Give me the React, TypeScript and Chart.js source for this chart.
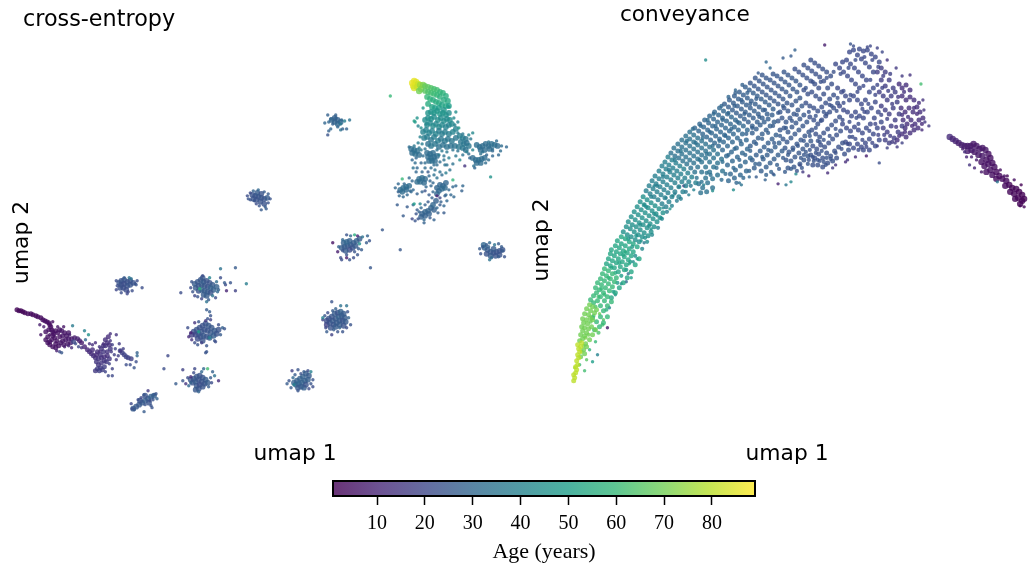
import React, { useEffect, useRef } from "react";
import { Chart, registerables } from "chart.js";

Chart.register(...registerables);

type Pt = number[];

// ---- Colorbar ----
const colorbarTicks = [10, 20, 30, 40, 50, 60, 70, 80];
const ageMin = 0.8;
const ageMax = 89;
const viridisStops = ["#440154", "#482878", "#3e4989", "#31688e", "#26828e", "#1f9e89", "#35b779", "#6ece58", "#b5de2b", "#fde725"];

// ---- cross-entropy panel: [x, y, age] ----
const strandDense: Pt[] = [[17,310,2],[19,311,2],[21,311,2],[23,312,2],[25,313,2],[28,314,3],[31,314,3],[33,315,3],[36,316,3],[38,317,3],[41,318,3],[43,320,4],[45,321,4],[47,322,4],[49,323,4],[50,325,4],[51,327,4],[52,330,4],[53,332,5],[54,334,5],[46,332,5],[48,337,5],[46,340,5],[48,343,5],[50,345,5],[53,347,5],[56,348,5],[59,346,5],[61,343,6],[63,341,6],[66,340,6],[69,339,7],[72,339,7],[75,338,8],[78,339,9],[80,341,9],[82,343,8],[60,330,6],[58,333,5],[62,331,6],[65,333,6],[67,336,6],[55,338,5],[52,340,5],[57,341,5],[85,347,10],[88,350,11],[90,352,12],[92,354,12],[94,356,13],[96,358,13],[99,359,14],[102,358,14],[105,357,13],[108,356,13],[104,352,15],[102,349,14],[106,346,14],[108,343,13],[106,340,13],[109,337,12],[97,362,15],[99,365,15],[101,368,16],[98,369,17],[100,371,18],[103,370,17],[105,367,17],[96,371,16],[121,351,18],[123,353,18],[125,355,19],[127,357,19],[129,358,19],[132,359,18],[110,359,15],[107,362,16],
[60,337,5],[63,336,6],[71,343,8],[74,342,20],[68,344,6],[64,345,6],[56,344,5],[50,342,5],[53,336,5],[49,330,5],[56,331,5],[69,333,6],[98,352,13],[101,355,14],[97,355,12],[93,350,12],[105,361,15],[102,363,15],[108,352,14],[111,349,15],[104,346,14],[110,345,13]];
const strandLoose: Pt[] = [[40,325,8],[44,327,8],[41,335,6],[73,326,37],[85,331,40],[89,335,45],[86,340,30],[60,352,20],[62,353,25],[96,343,12],[117,335,14],[111,334,13],[113,345,17],[116,349,18],[120,344,16],[121,351,15],[115,355,17],[117,360,16],[113,369,18],[109,376,20],[113,376,20],[127,365,22],[131,365,22],[135,368,24],[138,353,28],[138,356,30],[137,362,22],[58,327,6],[64,327,6],[70,335,8],[82,348,14],[90,344,14],[72,348,12],[110,364,18],[106,372,19],[57,351,9],[65,347,8],[69,346,10],[76,344,22],[79,347,20],[93,345,13],[100,347,14],[104,344,12],[112,352,16],[119,356,17],[124,349,17],[111,341,14],[100,352,12],[53,322,4],[50,335,5]];
const clusterDense: Pt[] = [
[120,283,24],[122,281,24],[125,280,24],[128,282,24],[131,281,23],[122,285,23],[125,284,22],[128,286,24],[131,285,24],[134,283,24],[124,288,22],[121,288,23],[127,290,22],
[196,284,26],[199,282,25],[202,280,25],[205,282,27],[208,281,24],[211,283,24],[214,285,26],[197,288,26],[200,286,24],[203,285,26],[206,286,25],[209,287,24],[212,288,28],[215,290,28],[200,291,24],[203,290,28],[206,291,26],[209,292,26],[212,293,24],[205,295,26],[208,296,26],[204,278,25],[218,287,28],
[195,332,22],[198,330,24],[201,328,23],[204,326,23],[207,324,24],[210,326,25],[213,328,25],[216,331,26],[197,335,20],[200,334,24],[203,332,24],[206,330,24],[209,331,24],[212,333,25],[202,337,24],[205,336,25],[208,337,24],[211,338,26],[215,336,27],[193,335,18],[218,334,24],[220,330,24],[199,339,22],[204,341,24],
[192,380,24],[195,379,24],[198,377,25],[201,376,24],[204,378,24],[207,380,26],[194,383,24],[197,382,26],[200,380,24],[203,382,24],[206,384,24],[209,383,26],[198,386,25],[201,385,22],[204,387,24],[200,389,24],[197,390,25],
[134,409,26],[137,407,25],[140,405,25],[143,403,26],[146,401,26],[149,399,26],[152,397,27],[155,396,27],[141,401,24],[146,396,24],[150,403,24],
[296,383,28],[299,381,28],[302,379,28],[305,377,28],[308,374,27],[311,376,26],[298,385,28],[301,384,30],[304,383,28],[307,381,28],[310,380,27],[303,387,26],[306,388,27],[300,388,26],[308,385,24],
[329,325,18],[332,323,24],[335,321,26],[338,319,25],[341,317,28],[344,316,26],[347,318,26],[331,319,24],[334,317,24],[337,314,26],[340,313,24],[343,312,28],[346,314,26],[336,325,24],[339,323,26],[342,321,26],[345,321,24],[348,322,26],[333,328,24],[338,327,26],[342,325,26],[329,321,22],[346,326,24],
[344,248,27],[347,247,26],[350,246,26],[353,245,26],[356,243,26],[359,241,28],[362,239,26],[346,243,28],[349,242,30],[352,241,28],[355,248,24],[352,250,22],[348,251,26],[358,246,26],
[488,248,28],[491,250,26],[494,252,26],[497,253,24],[500,252,24],[503,251,24],[506,250,24],[490,254,24],[494,256,26],[499,256,24],[503,255,24],[497,249,26],[487,245,30],
[334,120,29],[337,122,29],[340,124,30],[337,118,28],[340,120,28],[343,122,30],
[254,195,24],[257,196,24],[260,197,24],[263,198,25],[266,199,24],[259,193,26],[263,194,24],[258,200,24],[262,202,24],[266,204,24],[255,199,24],[269,198,26],
];
const clusterLoose: Pt[] = [
[117,281,22],[118,286,22],[117,290,20],[122,293,22],[128,294,20],[133,291,22],[136,284,24],[138,281,22],[143,288,22],[130,278,34],[132,279,34],[125,278,26],[129,292,20],[137,285,24],
[222,269,34],[237,268,26],[248,284,38],[182,293,22],[237,291,18],[227,285,22],[226,283,26],[232,283,24],[228,291,10],[193,282,24],[192,288,22],[196,296,20],[218,282,32],[220,290,28],[217,298,22],[208,302,34],[210,300,26],[204,276,22],[211,278,40],[201,289,58],[222,278,22],[219,292,30],[214,296,34],[199,297,24],[194,292,24],[203,299,20],
[208,310,26],[211,312,26],[212,316,24],[209,319,24],[207,321,16],[196,323,14],[189,328,22],[192,333,10],[190,337,12],[196,343,22],[199,345,24],[203,343,18],[208,346,24],[208,352,24],[207,353,24],[216,341,24],[224,328,28],[226,329,24],[220,325,22],[212,320,18],[200,332,50],[211,338,40],[217,342,22],[222,335,26],[193,340,14],[200,322,24],
[177,384,26],[184,370,18],[189,378,22],[184,381,24],[187,384,14],[192,377,12],[196,369,20],[205,369,30],[209,369,62],[214,372,28],[216,376,34],[220,381,12],[213,383,22],[192,383,28],[200,392,28],[212,378,26],[195,373,22],[190,386,30],[210,387,26],[203,372,30],
[132,404,20],[133,409,22],[135,410,25],[149,391,16],[145,395,24],[155,395,26],[157,394,24],[158,399,28],[151,401,22],[153,408,24],[152,406,24],[145,412,26],[142,398,20],[146,405,24],[139,400,22],[154,400,24],
[289,384,26],[294,371,18],[297,375,26],[291,381,24],[296,385,40],[300,370,24],[310,371,22],[313,372,40],[315,380,24],[315,387,22],[311,389,22],[300,391,24],[295,378,30],[306,372,26],[303,374,24],[313,384,24],[293,388,26],
[334,302,24],[343,306,34],[349,306,34],[325,320,18],[327,316,24],[330,313,22],[338,309,28],[350,312,24],[351,318,28],[353,325,24],[349,328,22],[342,328,28],[336,330,26],[329,332,26],[334,335,18],[345,332,24],[325,318,40],[335,311,26],[328,328,20],[340,332,24],
[335,243,5],[345,251,24],[340,252,8],[343,258,22],[344,260,22],[349,258,8],[352,260,24],[356,258,22],[360,255,24],[364,250,26],[369,243,26],[372,241,24],[365,237,34],[357,235,56],[360,236,10],[353,236,30],[349,235,24],[345,240,30],[385,230,25],[403,250,25],[373,268,25],[362,244,44],[370,236,28],[341,247,28],[357,252,24],[361,249,26],[349,255,24],
[483,249,26],[484,254,24],[490,245,26],[493,243,30],[498,245,34],[502,244,26],[506,251,26],[508,257,24],[502,257,26],[495,258,30],[493,260,34],[486,247,26],[492,247,28],[505,247,26],
[330,115,28],[327,123,30],[333,119,30],[344,120,30],[347,121,38],[352,120,34],[340,127,30],[343,130,34],[333,129,30],[331,131,28],[345,129,28],[349,129,28],[330,135,24],[338,118,28],[343,124,36],[335,124,28],[331,122,30],[338,115,28],
[249,196,22],[252,193,22],[255,191,28],[260,190,30],[266,192,26],[270,194,26],[272,199,24],[270,203,24],[267,207,26],[263,210,26],[258,204,22],[252,200,24],[256,201,24],[268,209,26],[261,206,24],[250,199,24],
[169,356,20],[165,369,22],
];
const headYellow: Pt[] = [[415,83,86],[417,81,86],[419,82,85],[416,86,86],[418,85,85],[421,84,82],[417,88,84],[420,87,82],[423,85,76],[426,85,72],[424,89,72],[422,91,70]];
const topGreen: Pt[] = [[428,86,68],[431,87,67],[434,88,65],[437,89,63],[440,90,62],[443,92,60],[446,93,58],[449,96,56],[428,91,66],[431,92,64],[434,93,62],[437,94,61],[440,95,60],[443,97,57],[447,100,55],[451,101,54],[430,97,60],[433,99,58],[436,100,56],[439,102,55],[442,103,55],[445,105,52],[449,106,53],[452,106,50],[431,104,55],[435,107,52],[438,108,50],[442,108,50],[447,110,47]];
const topTeal: Pt[] = [[431,113,46],[434,112,46],[437,113,47],[440,111,47],[443,114,48],[446,113,46],[449,115,46],[452,113,44],[428,120,44],[431,118,44],[434,119,45],[437,117,44],[441,120,44],[444,118,44],[447,121,44],[450,119,43],[453,120,44],[430,125,42],[433,123,42],[436,126,43],[439,124,42],[442,127,42],[445,125,42],[449,127,40],[452,125,40],[455,124,42],[426,132,40],[429,130,40],[432,133,40],[435,131,40],[439,134,41],[442,131,38],[445,134,38],[448,132,38],[452,134,38],[456,132,40],[459,129,40],[427,138,38],[430,137,38],[434,140,36],[437,137,38],[441,141,38],[444,139,36],[448,141,36],[451,139,36],[455,141,36],[459,138,36],[431,144,34],[434,146,36],[438,144,36],[442,147,34],[446,145,34],[450,147,34],[454,146,34],[458,146,34],[463,136,38],[466,138,38],[469,139,36],[464,142,36],[467,144,36],[470,143,34],[472,146,36],[462,147,36],[466,148,36],[469,150,34]];
const topBranches: Pt[] = [[480,145,33],[483,147,33],[486,146,32],[489,144,32],[492,146,32],[495,144,33],[498,145,33],[501,146,32],[484,150,32],[488,150,32],[493,149,32],[476,158,32],[479,160,32],[482,160,33],[485,159,32],[488,158,32],[480,163,32],[484,163,32],[414,149,33],[417,150,33],[420,151,33],[415,153,32],[418,154,33],[422,155,32],[430,153,32],[433,154,32],[436,153,32],[431,157,32],[434,158,32],[437,157,32],[440,156,32],[432,161,32],[435,161,33],[438,161,32],[422,179,32],[425,178,32],[428,179,31],[420,182,32],[423,182,32],[427,183,31],[403,190,31],[406,188,32],[409,187,32],[412,186,32],[405,192,32],[409,190,31],[440,188,30],[443,185,30],[446,186,30],[449,183,30],[442,191,30],[445,189,31],[448,188,31],[440,194,30],[425,214,28],[428,212,29],[431,211,29],[434,208,29],[424,217,28],[428,216,28],[432,214,28],[436,205,30],[439,201,28],[437,210,28]];
const topLoose: Pt[] = [[393,96,60],[417,121,52],[418,122,48],[421,126,40],[426,108,48],[420,118,46],[425,144,38],[424,150,36],[417,146,36],[459,112,44],[452,107,48],[462,128,46],[466,134,36],[476,133,42],[476,150,40],[470,152,38],[473,158,30],[477,166,34],[468,166,14],[478,168,30],[463,160,42],[486,152,34],[502,155,30],[496,156,30],[505,146,32],[510,147,30],[492,142,34],[494,177,46],[415,160,30],[418,163,32],[416,168,34],[420,168,30],[419,172,30],[434,168,32],[440,165,32],[448,165,34],[452,158,38],[443,172,34],[445,175,32],[431,172,26],[437,175,34],[449,173,38],[456,180,58],[459,186,30],[466,186,30],[465,191,28],[405,179,60],[401,184,30],[412,178,30],[401,192,28],[402,196,30],[406,197,30],[414,192,30],[416,190,30],[420,194,28],[425,192,28],[428,191,24],[432,195,26],[436,192,30],[434,186,30],[440,196,10],[443,198,20],[449,195,30],[450,201,30],[440,208,30],[416,205,30],[400,205,26],[410,207,26],[417,204,50],[423,204,40],[406,216,26],[415,219,20],[418,221,24],[421,219,24],[427,220,30],[427,223,28],[437,220,28],[447,213,26],[457,197,30],[454,195,30],[440,150,34],[445,151,36],[450,152,36],[456,150,34],[461,151,34],[442,155,36],[447,156,34],[428,149,34],[426,156,32],[424,163,30],[428,168,32],[425,172,30],[432,176,30],[440,178,34],[453,170,34],[456,164,34],[459,156,36],[466,155,34],[472,154,32],[490,155,30],[496,151,30],[504,151,32],[484,154,34],[410,195,30],[407,184,30],[415,181,30],[435,198,28],[431,202,26],[428,205,28],[424,208,30],[420,210,26],[443,205,26],[447,206,30],
[424,128,44],[423,137,40],[421,143,38],[429,124,42],[457,118,42],[461,122,40],[458,125,40],[461,133,38],[474,139,36],[472,135,40],[419,158,30],[412,147,32],[422,148,36],[428,163,32],[437,165,32],[443,162,32],[447,160,34],[450,165,34],[438,170,34],[433,181,30],[436,183,30],[429,187,30],[452,190,30],[456,187,30],[448,196,28],[444,202,28],[441,213,28],[433,218,26],[422,212,28],[419,214,24],[413,191,30],[398,188,30],[496,149,32],[500,141,32],[489,163,32],[492,160,32]];

// ---- conveyance panel: (x, y) by stretch of the arc, with one age per stretch ----
const arcTip: Pt[] = [[574,381],[575,378],[574,375],[576,373],[577,370],[576,367],[578,365],[577,361],[579,358],[578,355],[580,352],[579,349],[581,347],[578,345],[582,343]];
const arcTipAge = 80;
const arcLow: Pt[] = [[580,341],[583,339],[581,335],[585,336],[583,331],[587,333],[582,327],[585,328],[589,329],[584,323],[588,324],[592,327],[583,319],[587,320],[591,318],[585,314],[589,315],[593,320],[587,309],[591,311],[595,313],[590,305],[593,307],[597,310],[586,344],[590,340],[584,350],[587,347],[593,335],[596,330],[581,357],[585,354]];
const arcLowAge = 70;
const arcClimbA: Pt[] = [[591,300],[594,303],[598,301],[601,306],[594,296],[597,293],[601,297],[605,301],[596,288],[600,290],[604,293],[608,297],[598,283],[602,285],[606,288],[610,291],[601,279],[605,281],[609,284],[613,287],[593,318],[597,322],[601,317],[604,311],[608,306],[595,330],[600,327],[604,323],[608,317],[612,302],[603,274],[607,276],[611,279],[615,282],[605,269],[609,271],[613,274],[617,278]];
const arcClimbAAge = 60;
const arcClimbB: Pt[] = [[607,264],[611,266],[615,268],[619,272],[609,259],[613,261],[617,263],[621,267],[625,270],[611,254],[615,256],[619,259],[623,262],[627,265],[612,250],[617,252],[621,254],[625,257],[629,260],[616,246],[620,248],[624,251],[628,253],[632,256],[618,241],[622,244],[626,246],[630,249],[634,252],[620,288],[624,283],[628,278],[632,272],[636,265],[640,259],[616,293],[612,298],[622,237],[626,239],[630,242],[634,244],[638,247]];
const arcClimbBAge = 53;
const arcShoulderA: Pt[] = [[624,232],[628,235],[632,237],[636,240],[640,242],[627,227],[631,229],[635,232],[639,235],[643,237],[629,222],[633,225],[637,227],[641,230],[645,233],[649,236],[632,217],[636,220],[640,223],[644,225],[648,228],[652,232],[635,212],[639,215],[643,218],[647,221],[651,224],[655,227],[638,207],[642,210],[646,213],[650,216],[654,219],[658,222],[641,202],[645,205],[649,208],[653,211],[657,214],[661,218],[644,197],[648,200],[652,203],[656,206],[660,209],[664,213]];
const arcShoulderAAge = 45;
const arcShoulderB: Pt[] = [[647,191],[651,194],[655,197],[659,200],[663,204],[667,207],[650,186],[654,189],[658,192],[662,195],[666,198],[670,202],[653,181],[657,184],[661,187],[665,190],[669,193],[673,197],[656,176],[660,179],[664,182],[668,185],[672,188],[676,192],[680,197],[660,171],[664,174],[668,177],[672,180],[676,183],[680,187],[684,192],[663,166],[667,169],[671,172],[675,175],[679,178],[683,182],[687,186],[666,162],[670,165],[674,168],[678,171],[682,174],[686,178],[690,182],[669,157],[673,160],[677,163],[681,166],[685,169],[689,173],[693,177],[697,183]];
const arcShoulderBAge = 39;
const arcMidA: Pt[] = [[672,153],[676,156],[680,158],[684,161],[688,164],[692,168],[696,172],[675,148],[679,151],[683,154],[687,157],[691,160],[695,163],[699,167],[703,172],[707,178],[679,144],[683,147],[687,150],[691,153],[695,156],[699,159],[703,162],[707,167],[711,172],[683,140],[687,143],[691,146],[695,149],[699,152],[703,155],[707,158],[711,162],[715,167],[687,136],[691,139],[695,142],[699,145],[703,148],[707,151],[711,154],[715,158],[719,163],[691,132],[695,135],[699,138],[703,141],[707,144],[711,147],[715,150],[719,154],[723,159],[700,184],[704,188],[709,183],[714,179],[719,175],[724,171],[702,193],[708,192],[714,188]];
const arcMidAAge = 34;
const arcMidB: Pt[] = [[696,128],[700,131],[704,134],[708,137],[712,140],[716,143],[720,146],[724,150],[701,124],[705,127],[709,130],[713,133],[717,136],[721,139],[725,142],[729,146],[706,120],[710,123],[714,126],[718,129],[722,132],[726,135],[730,138],[734,142],[711,116],[715,119],[719,122],[723,125],[727,128],[731,131],[735,134],[739,138],[716,112],[720,115],[724,118],[728,121],[732,124],[736,127],[740,130],[744,134],[721,108],[725,111],[729,114],[733,117],[737,120],[741,123],[745,126],[749,130],[728,156],[733,152],[738,148],[743,144],[748,140],[729,165],[734,161],[739,157],[744,153],[749,149],[732,174],[737,170],[742,166],[747,162],[752,158],[730,181],[736,178],[742,175],[748,171]];
const arcMidBAge = 30;
const arcCrownA: Pt[] = [[726,104],[730,107],[734,110],[738,113],[742,116],[746,119],[750,122],[754,126],[731,100],[735,103],[739,106],[743,109],[747,112],[751,115],[755,118],[759,122],[736,96],[740,99],[744,102],[748,105],[752,108],[756,111],[760,114],[764,118],[741,92],[745,95],[749,98],[753,101],[757,104],[761,107],[765,110],[769,114],[747,87],[751,90],[755,93],[759,96],[763,99],[767,102],[771,105],[775,109],[754,133],[758,129],[762,125],[766,122],[770,119],[774,115],[752,146],[756,142],[760,138],[764,134],[768,130],[772,126],[776,122],[754,160],[758,155],[762,151],[766,147],[770,143],[774,139],[778,135],[756,168],[761,164],[765,159],[769,155],[773,151],[777,147],[781,143],[763,171],[768,167],[772,163],[776,159],[780,155],[784,151]];
const arcCrownAAge = 27;
const arcCrownB: Pt[] = [[752,83],[756,86],[760,89],[764,92],[768,95],[772,98],[776,101],[780,104],[757,78],[761,81],[765,84],[769,87],[773,90],[777,93],[781,96],[785,99],[789,103],[764,75],[768,78],[772,80],[776,83],[780,86],[784,89],[788,92],[792,96],[775,74],[779,76],[783,79],[787,82],[791,85],[795,89],[799,92],[786,72],[790,75],[794,78],[798,81],[802,85],[782,112],[786,108],[790,111],[794,105],[798,101],[802,98],[780,121],[784,118],[788,122],[792,118],[796,114],[800,110],[804,106],[782,130],[786,128],[790,132],[794,127],[798,123],[802,119],[806,115],[785,139],[789,142],[793,138],[797,134],[801,130],[805,126],[809,122],[787,148],[791,152],[795,148],[799,144],[803,140],[807,136],[811,132],[788,160],[793,161],[797,157],[801,153],[805,149],[809,145],[813,141],[790,168],[796,167],[802,164],[806,160],[810,156]];
const arcCrownBAge = 25;
const arcCrownC: Pt[] = [[797,69],[801,72],[805,75],[809,78],[813,81],[817,84],[821,88],[806,65],[810,68],[814,71],[818,74],[822,77],[826,81],[813,60],[817,63],[821,66],[825,69],[829,72],[833,76],[806,90],[810,94],[814,92],[818,96],[822,99],[826,94],[830,88],[834,84],[808,103],[812,106],[816,108],[820,111],[824,107],[828,103],[832,99],[836,95],[812,117],[816,120],[820,124],[824,120],[828,116],[832,112],[836,108],[840,103],[814,130],[818,134],[822,137],[826,133],[830,129],[834,125],[838,121],[842,117],[815,146],[819,149],[823,145],[827,147],[831,143],[835,139],[839,135],[843,131],[813,155],[817,158],[821,154],[825,158],[829,153],[833,156],[837,151],[841,147],[815,165],[820,165],[825,167],[830,163],[835,161],[839,158],[845,143],[847,154],[851,150]];
const arcCrownCAge = 23;
const arcCrownD: Pt[] = [[838,64],[842,68],[846,72],[850,76],[854,80],[858,84],[862,88],[845,62],[849,60],[853,64],[857,68],[861,72],[865,76],[869,80],[852,52],[856,50],[860,55],[864,59],[868,63],[872,67],[876,72],[862,49],[866,51],[870,50],[874,54],[878,57],[882,62],[840,88],[844,92],[848,96],[852,100],[856,96],[860,100],[864,104],[868,100],[872,92],[876,88],[842,106],[846,110],[850,112],[854,116],[858,112],[862,116],[866,118],[870,112],[874,108],[878,102],[845,124],[849,128],[853,131],[857,127],[861,130],[865,133],[869,128],[873,124],[877,118],[881,112],[848,142],[852,144],[856,148],[860,144],[864,147],[868,143],[872,139],[876,134],[880,128],[884,122],[866,150],[872,150],[878,146],[882,140]];
const arcCrownDAge = 21;
const arcShoulderEnd: Pt[] = [[880,72],[884,68],[888,72],[884,80],[888,86],[892,80],[896,88],[882,92],[886,96],[890,100],[894,96],[898,92],[884,106],[888,110],[892,114],[896,108],[900,102],[886,128],[890,132],[894,126],[898,120],[902,114],[888,140],[892,143],[897,138],[901,132],[905,126]];
const arcShoulderEndAge = 17;
const arcCap: Pt[] = [[902,84],[905,88],[909,85],[913,90],[905,96],[909,100],[913,97],[917,100],[904,108],[908,112],[912,108],[916,112],[920,107],[923,112],[906,120],[910,124],[914,120],[918,124],[922,120],[926,118],[905,134],[909,137],[913,133],[917,130],[921,128],[908,128],[900,140]];
const arcCapAge = 13;
// irregular points read between the denser runs of the arc
const arcInfill: Pt[] = [
[582,352,76],[584,346,74],[586,338,72],[589,335,70],[591,322,68],[594,316,66],[596,307,64],[599,297,62],[602,289,60],[605,295,60],[609,278,58],[607,310,56],[603,325,62],[599,333,64],[612,268,54],[616,273,54],[620,263,52],[624,255,52],[618,283,48],[622,276,50],[627,270,48],[631,262,48],[614,292,50],
[633,247,47],[637,236,46],[641,225,44],[629,239,46],[646,238,44],[650,226,42],[655,214,42],[636,256,44],[643,249,42],[648,242,44],[653,235,42],[659,228,40],[663,219,40],[668,212,38],[673,206,40],[678,201,38],[647,207,40],[652,197,40],[658,186,38],[664,177,38],[670,170,36],[676,160,36],[682,151,36],[688,141,34],[694,129,34],[682,199,38],[687,192,36],[692,186,36],[698,178,34],[703,182,34],[708,173,34],
[702,126,32],[709,120,32],[715,114,31],[723,106,30],[730,97,30],[737,93,28],[744,85,28],[697,143,32],[704,138,32],[711,132,31],[717,126,30],[724,120,30],[730,113,30],[736,106,28],[743,100,28],[749,93,28],[701,160,34],[708,154,33],[714,146,32],[721,141,31],[727,136,30],[733,129,30],[739,122,29],[746,114,28],[752,104,27],[758,99,27],[712,175,33],[718,168,32],[724,162,32],[730,155,30],[736,149,30],[742,141,29],[748,134,28],[754,128,27],[761,117,27],[767,110,26],
[723,180,31],[727,174,31],[735,168,30],[741,160,29],[747,155,29],[752,151,28],[758,144,27],[764,139,27],[770,133,27],[775,126,26],[780,113,26],[785,106,26],[738,183,30],[745,178,30],[751,171,29],[757,164,28],[764,157,28],[770,150,27],[776,143,26],[782,136,26],[788,128,26],[794,121,25],[799,115,25],
[768,175,28],[773,172,28],[779,165,27],[785,158,26],[790,155,26],[795,150,26],[800,146,25],[806,141,25],[812,136,25],[818,128,24],[823,121,24],[829,114,24],[834,106,24],[840,98,23],[846,91,22],[781,169,26],[787,172,26],[793,169,26],[799,171,24],[804,168,25],[810,164,25],[816,161,24],[822,161,24],[828,165,24],[833,159,24],[838,153,23],[844,149,22],[850,144,22],[855,137,22],[861,124,22],[867,112,21],
[808,88,24],[815,82,24],[823,82,23],[829,78,23],[836,72,23],[843,74,22],[851,68,22],[858,60,22],[867,57,21],[875,60,21],[881,67,20],[811,112,24],[818,116,24],[826,112,24],[832,105,23],[839,111,23],[846,103,22],[853,95,22],[860,92,21],[866,86,21],[873,80,21],[880,85,20],[886,76,18],[893,74,18],[820,141,24],[826,140,24],[832,136,23],[838,129,23],[845,120,22],[852,122,22],[859,118,22],[865,109,21],[871,104,21],[878,95,20],[885,88,19],[891,91,18],[852,137,22],[858,139,21],[865,140,21],[872,131,21],[878,124,20],[884,115,20],[890,119,18],[895,104,17],[901,97,15],[907,92,14],[861,150,21],[869,147,20],[875,143,20],[881,135,19],[887,135,18],[893,136,17],[899,127,15],[905,115,14],[911,117,14],[917,108,13],[922,103,13],[895,142,16],[902,136,14],[908,132,13],[915,126,12],[920,114,12],[925,124,12],
[812,150,24],[818,153,24],[824,151,24],[820,160,24],[826,162,24],[811,160,24],[815,157,24],[829,158,24],[806,155,25],[803,158,25],[808,152,25],[822,142,24],
];
const arcLoose: Pt[] = [[827,45,8],[853,44,24],[856,46,22],[870,47,20],[873,46,20],[880,48,18],[885,52,20],[890,60,14],[899,68,16],[905,76,16],[913,75,14],[924,84,62],[926,100,14],[927,110,14],[932,126,16],[928,122,16],[925,130,12],[905,143,18],[900,147,16],[880,146,16],[869,156,8],[882,163,22],[848,162,12],[835,168,16],[830,173,12],[811,176,10],[805,172,16],[798,174,42],[793,182,42],[788,185,36],[780,184,10],[767,180,28],[743,185,34],[705,185,40],[685,186,12],[674,196,48],[667,198,38],[655,186,40],[645,205,36],[680,187,42],[735,190,44],[802,165,10],[776,175,30],[768,62,30],[760,73,26],[785,58,26],[793,56,26],[797,50,28],[772,68,30],[707,60,44],[737,90,30],[600,314,70],[626,252,62],[632,278,50],[627,282,30],[645,243,36],[658,216,40],[664,208,42],[676,194,36],[630,264,54],[622,284,44],[610,308,40],[604,320,66],[608,328,6],[616,295,46],[629,274,34],[596,342,60],[590,350,58],[593,362,50],[598,355,40],[580,365,60],[587,360,66],[585,371,62],[575,368,76],[850,160,14],[858,157,12],[890,148,18],[898,143,16],[838,165,14],[775,174,24],[751,177,30],[758,177,26],[741,183,32],[714,191,44],[695,190,40],[690,195,38],[671,209,46],[662,218,46],[652,229,46],[642,241,46],[638,259,48],[634,262,44]];
const rightStrand: Pt[] = [[953,137,12],[956,139,10],[959,141,10],[962,143,8],[965,145,8],[968,146,8],[971,146,7],[974,146,7],[977,144,6],[980,146,6],[983,149,6],[986,148,6],[989,150,6],[992,154,5],[994,158,5],[990,160,5],[986,156,6],[982,155,6],[978,152,6],[975,150,7],[971,151,7],[985,162,5],[988,166,5],[992,164,5],[996,163,4],[998,167,4],[994,170,4],[990,172,4],[996,175,4],[1000,172,3],[1003,176,3],[1000,179,3],[1006,179,3],[1010,181,3],[1013,185,2],[1009,186,3],[1016,188,2],[1020,189,2],[1014,192,2],[1018,194,2],[1023,192,1],[1026,195,1],[1022,198,1],[1026,201,1],[1024,204,1],[1028,199,1],[1019,199,2]];
const rightStrandLoose: Pt[] = [[968,152,12],[970,157,10],[966,149,8],[973,165,14],[978,168,10],[985,172,6],[1001,182,36],[1011,176,2],[1018,180,4],[1025,185,1],[1024,206,2],[1028,207,2],[975,157,8],[980,160,7],[1004,170,4],[1008,176,4]];

const hexToRgb = (h: string) => [1, 3, 5].map((i) => parseInt(h.slice(i, i + 2), 16));
function viridis(age: number, alpha = 0.8) {
  const t = Math.min(1, Math.max(0, (age - ageMin) / (ageMax - ageMin))) * (viridisStops.length - 1);
  const i = Math.min(viridisStops.length - 2, Math.floor(t));
  const a = hexToRgb(viridisStops[i]);
  const b = hexToRgb(viridisStops[i + 1]);
  const c = a.map((v, k) => Math.round(v + (b[k] - v) * (t - i)));
  return `rgba(${c[0]},${c[1]},${c[2]},${alpha})`;
}

const withAge = (pts: Pt[], age: number): Pt[] => pts.map((p) => [p[0], p[1], age]);
const toDataset = (pts: Pt[], radius: number) => ({
  data: pts.map((p) => ({ x: p[0], y: p[1] })),
  backgroundColor: pts.map((p) => viridis(p[2])),
  pointRadius: radius,
  pointBorderWidth: 0,
  borderWidth: 0,
  clip: false as const,
});

const LABEL_FONT = "'DejaVu Sans', sans-serif";
const SERIF = "'Liberation Serif', serif";

function Panel({ left, width, top, height, xRange, yRange, datasets }: any) {
  const ref = useRef<HTMLCanvasElement>(null);
  useEffect(() => {
    const chart = new Chart(ref.current!, {
      type: "scatter",
      data: { datasets },
      options: {
        animation: false,
        responsive: false,
        layout: { padding: { top: yRange[0], right: 0, left: 0, bottom: 0 } },
        plugins: { legend: { display: false }, tooltip: { enabled: false } },
        scales: {
          x: {
            type: "linear", min: xRange[0], max: xRange[1],
            grid: { display: false, drawTicks: false }, border: { display: false }, ticks: { display: false },
            title: { display: true, text: "umap 1", color: "#000", font: { family: LABEL_FONT, size: 21.8, lineHeight: 1.2 }, padding: { top: 0, bottom: 0 } },
          },
          y: {
            type: "linear", min: yRange[0], max: yRange[1], reverse: true,
            afterFit: (axis: any) => { axis.width = 6; },
            grid: { display: false, drawTicks: false }, border: { display: false }, ticks: { display: false },
            title: { display: true, text: "umap 2", color: "#000", font: { family: LABEL_FONT, size: 21.8, lineHeight: 1.2 }, padding: { top: 0, bottom: 0 } },
          },
        },
      },
    } as any);
    return () => chart.destroy();
  }, []);
  return <canvas ref={ref} width={width} height={height} style={{ position: "absolute", left, top, width, height }} />;
}

const colorbarFill = {
  id: "colorbarFill",
  beforeDatasetsDraw(chart: any) {
    const { ctx, chartArea: a } = chart;
    const g = ctx.createLinearGradient(a.left, 0, a.right, 0);
    viridisStops.forEach((c, i) => {
      const [r, gg, b] = hexToRgb(c);
      g.addColorStop(i / (viridisStops.length - 1), `rgba(${r},${gg},${b},0.8)`);
    });
    ctx.save();
    ctx.fillStyle = g;
    ctx.fillRect(a.left, a.top, a.right - a.left, a.bottom - a.top);
    ctx.strokeStyle = "#000";
    ctx.lineWidth = 2;
    ctx.strokeRect(a.left, a.top, a.right - a.left, a.bottom - a.top);
    ctx.restore();
  },
};

function Colorbar() {
  const ref = useRef<HTMLCanvasElement>(null);
  useEffect(() => {
    const chart = new Chart(ref.current!, {
      type: "scatter",
      data: { datasets: [{ data: [] }] },
      options: {
        animation: false,
        responsive: false,
        layout: { padding: { left: 33, right: 35, top: 11, bottom: 0 } },
        plugins: { legend: { display: false }, tooltip: { enabled: false } },
        scales: {
          y: { display: false, min: 0, max: 1 },
          x: {
            type: "linear", min: ageMin, max: ageMax,
            afterBuildTicks: (axis: any) => { axis.ticks = colorbarTicks.map((value) => ({ value })); },
            afterFit: (axis: any) => { axis.height = 71; },
            grid: { drawOnChartArea: false, drawTicks: true, tickLength: 9, tickWidth: 1.5, tickColor: "#000" },
            border: { display: false },
            ticks: { color: "#000", font: { family: SERIF, size: 20 }, padding: 7, maxRotation: 0, autoSkip: false },
            title: { display: true, text: "Age (years)", color: "#000", font: { family: SERIF, size: 22 }, padding: { top: 0, bottom: 2 } },
          },
        },
      },
      plugins: [colorbarFill],
    } as any);
    return () => chart.destroy();
  }, []);
  return <canvas ref={ref} width={490} height={97} style={{ position: "absolute", left: 300, top: 470, width: 490, height: 97 }} />;
}

const headingStyle = (left: number, top: number, size: number): React.CSSProperties => ({
  position: "absolute", left, top, font: `${size}px ${LABEL_FONT}`, color: "#000", whiteSpace: "nowrap", lineHeight: "26px",
});

export default function App() {
  const crossDatasets = [
    toDataset([...strandLoose, ...clusterLoose, ...topLoose], 1.7),
    toDataset(strandDense, 2.5),
    toDataset(clusterDense, 2.9),
    toDataset(topBranches, 2.9),
    toDataset(topTeal, 2.9),
    toDataset(topGreen, 2.9),
    toDataset(headYellow, 3.2),
  ];
  const arc: Pt[] = [
    ...withAge(arcCap, arcCapAge),
    ...withAge(arcShoulderEnd, arcShoulderEndAge),
    ...withAge(arcCrownD, arcCrownDAge),
    ...withAge(arcCrownC, arcCrownCAge),
    ...withAge(arcCrownB, arcCrownBAge),
    ...withAge(arcCrownA, arcCrownAAge),
    ...withAge(arcMidB, arcMidBAge),
    ...withAge(arcMidA, arcMidAAge),
    ...withAge(arcShoulderB, arcShoulderBAge),
    ...withAge(arcShoulderA, arcShoulderAAge),
    ...withAge(arcClimbB, arcClimbBAge),
    ...withAge(arcClimbA, arcClimbAAge),
    ...withAge(arcLow, arcLowAge),
    ...withAge(arcTip, arcTipAge),
  ];
  const conveyDatasets = [
    toDataset(arc, 2.5),
    toDataset(arcInfill, 2.1),
    toDataset([...arcLoose, ...rightStrandLoose], 1.7),
    toDataset(rightStrand, 3.2),
  ];
  return (
    <div style={{ position: "fixed", left: 0, top: 0, width: 1028, height: 567, overflow: "hidden", background: "#fff" }}>
      <Panel left={9} width={570} top={0} height={467} xRange={[15, 579]} yRange={[44, 441.2]} datasets={crossDatasets} />
      <Panel left={529} width={514} top={0} height={467} xRange={[535, 1043]} yRange={[39, 441.2]} datasets={conveyDatasets} />
      <Colorbar />
      <div style={headingStyle(23, 5, 22.3)}>cross-entropy</div>
      <div style={headingStyle(620, 1, 21.6)}>conveyance</div>
    </div>
  );
}
